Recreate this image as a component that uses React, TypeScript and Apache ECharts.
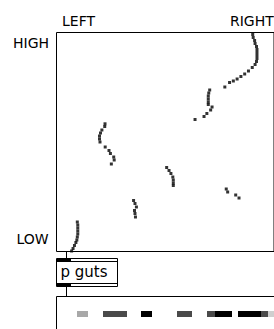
import React, { useEffect, useRef } from "react";
import * as echarts from "echarts";

// Trail of the 2D pad (x: LEFT -> RIGHT, y: LOW -> HIGH), in pad units
const trailX = [
  207.5, 208, 209.5, 210, 211.5, 212, 212, 212, 212, 211.5, 210, 207, 203, 199, 195, 191, 187, 183, 178,
  162, 161, 160.5, 160.5, 160.5, 160.5, 164.5, 163, 159, 156, 146.5,
  51.3, 51, 48, 46.5, 45.5, 45.5, 46, 51.5, 55.5, 57, 60.5, 61, 58,
  116.5, 119, 121, 123, 123.5, 123.5, 123.5,
  179.5, 181, 189.5, 193,
  81.5, 83, 84.5, 82.5, 83, 83.5,
  22, 22.5, 22.5, 22.5, 22.5, 22, 21.5, 20.5, 19, 17.5, 16,
];
const trailY = [
  217, 214, 211, 208, 205, 202, 199, 196, 193, 190, 187, 184, 180.5, 177.5, 175, 172.5, 170.5, 169, 164.5,
  161.5, 158.5, 155.5, 152.5, 149.5, 147, 144.5, 141.5, 138, 135, 132,
  127.7, 125, 121.5, 118.5, 115.5, 112.5, 109.5, 104.5, 101, 98, 94.5, 91.5, 87.5,
  84, 81, 78, 74.5, 71.5, 68.5, 66,
  62.5, 59.5, 56.5, 53.5,
  51, 48, 44.5, 41, 38, 34.5,
  29.5, 26.5, 23.5, 20.5, 17.5, 14.5, 11.5, 9, 6, 3, 0.5,
];
const padXRange = [0, 230];
const padYRange = [0, 219];
const xLabels = ["LEFT", "RIGHT"];
const yLabels = ["HIGH", "LOW"];
const objectName = "p guts";

export default function App() {
  const ref = useRef<HTMLDivElement>(null);
  useEffect(() => {
    if (!ref.current) return;
    const chart = echarts.init(ref.current, null, { renderer: "svg" });
    const font = "DejaVu Sans";
    const txt = (text: string, x: number, y: number, size: number) => ({
      type: "text",
      x,
      y,
      style: { text, fill: "#000", font: `${size}px "${font}"`, verticalAlign: "top" },
    });
    const blk = (x: number, y: number, w: number, h: number, fill: string) => ({
      type: "rect",
      shape: { x, y, width: w, height: h },
      style: { fill },
    });
    const ln = (x1: number, y1: number, x2: number, y2: number) => ({
      type: "line",
      shape: { x1, y1, x2, y2 },
      style: { stroke: "#000", lineWidth: 1 },
    });
    chart.setOption({
      animation: false,
      backgroundColor: "#fff",
      grid: {
        left: 56.5,
        top: 32.5,
        width: 230,
        height: 219,
        show: true,
        borderColor: "#000",
        borderWidth: 1,
        backgroundColor: "#fff",
      },
      xAxis: { type: "value", min: padXRange[0], max: padXRange[1], show: false },
      yAxis: { type: "value", min: padYRange[0], max: padYRange[1], show: false },
      series: [
        {
          type: "scatter",
          symbol: "rect",
          symbolSize: [3, 3],
          itemStyle: { color: "#000" },
          data: trailX.map((x, i) => [x, trailY[i]]),
        },
      ],
      graphic: [
        txt(xLabels[0], 62, 14, 14),
        txt(xLabels[1], 230, 14, 14),
        txt(yLabels[0], 13, 36, 14),
        txt(yLabels[1], 16.5, 232, 14),
        // patch cords
        ln(66.5, 251, 66.5, 258),
        ln(66.5, 287, 66.5, 297),
        // p guts box
        {
          type: "rect",
          shape: { x: 56.5, y: 258.5, width: 61, height: 28 },
          style: { fill: "#fff", stroke: "#000", lineWidth: 1 },
        },
        ln(56.5, 261.5, 117.5, 261.5),
        ln(56.5, 283.5, 117.5, 283.5),
        blk(57, 258, 14, 4, "#000"),
        blk(57, 283, 14, 4, "#000"),
        txt(objectName, 60.5, 264.5, 15),
        // lower box
        {
          type: "rect",
          shape: { x: 56.5, y: 296.5, width: 240, height: 60 },
          style: { fill: "#fff", stroke: "#000", lineWidth: 1 },
        },
        blk(77, 311, 11, 6, "#a8a8a8"),
        blk(103, 311, 24, 6, "#4a4a4a"),
        blk(141, 311, 11, 6, "#000"),
        blk(177, 311, 15, 6, "#4a4a4a"),
        blk(207, 311, 8, 6, "#4a4a4a"),
        blk(215, 311, 17, 6, "#000"),
        blk(238, 311, 23, 6, "#000"),
        blk(261, 311, 7, 6, "#4a4a4a"),
        blk(268, 311, 6, 6, "#cfcfcf"),
      ],
    });
    return () => chart.dispose();
  }, []);
  return <div ref={ref} style={{ position: "fixed", left: 0, top: 0, width: 274, height: 329 }} />;
}
